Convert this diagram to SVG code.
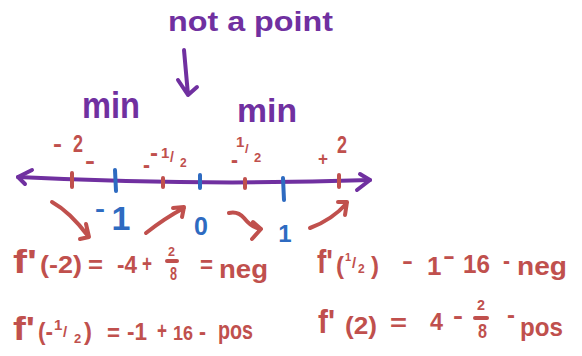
<svg xmlns="http://www.w3.org/2000/svg" width="582" height="356" viewBox="0 0 582 356">
<style>
text{font-family:"Liberation Sans",Arial,sans-serif;font-weight:bold}
.p{fill:#7030a0}
.r{fill:#c0504d}
.b{fill:#2e6bc1}
.ln{fill:none;stroke-width:4;stroke-linecap:round;stroke-linejoin:round}
.pl{stroke:#7030a0}
.rl{stroke:#c0504d}
.bl{stroke:#2e6bc1}
.s24{font-size:24px}
</style>
<rect width="582" height="356" fill="#ffffff"/>

<g id="note-not-a-point">
<text class="p" x="168" y="31" font-size="28" textLength="165" lengthAdjust="spacingAndGlyphs">not a point</text>
<path class="ln pl" d="M184,50 L188,95 M178,80 L188,95 L197,87"/>
</g>

<g id="min-labels">
<text class="p" x="82" y="118" font-size="36" textLength="58" lengthAdjust="spacingAndGlyphs">min</text>
<text class="p" x="237" y="122" font-size="34" textLength="60" lengthAdjust="spacingAndGlyphs">min</text>
</g>

<g id="number-line">
<path class="ln pl" d="M18,177 Q200,186 370,180"/>
<path class="ln pl" d="M32,170 L18,177 L25,184"/>
<path class="ln pl" d="M360,174 L370,180 L357,190"/>
<path class="ln rl" d="M72,173 L72,187 M163,178 L163,187 M245,179 L245,188 M339,175 L339,187"/>
<path class="ln bl" d="M115,170 L116,191 M200,175 L200,188 M283,178 L284,200"/>
</g>

<g id="test-points">
<text class="r s24" x="53" y="152" textLength="9" lengthAdjust="spacingAndGlyphs">-</text>
<text class="r s24" x="73" y="152" textLength="10" lengthAdjust="spacingAndGlyphs">2</text>
<text class="r s24" x="85" y="169" textLength="10" lengthAdjust="spacingAndGlyphs">-</text>

<text class="r s24" x="143" y="173" textLength="7" lengthAdjust="spacingAndGlyphs">-</text>
<text class="r s24" x="150" y="161" textLength="8" lengthAdjust="spacingAndGlyphs">-</text>
<text class="r" x="161" y="158" font-size="15">1</text>
<text class="r" x="170" y="162" font-size="14">/</text>
<text class="r" x="180" y="167" font-size="12">2</text>

<text class="r s24" x="231" y="168" textLength="7" lengthAdjust="spacingAndGlyphs">-</text>
<text class="r" x="236" y="147" font-size="15">1</text>
<text class="r" x="245" y="153" font-size="13">/</text>
<text class="r" x="254" y="162" font-size="13">2</text>

<text class="r" x="318" y="165" font-size="18" textLength="10" lengthAdjust="spacingAndGlyphs">+</text>
<text class="r s24" x="337" y="153" textLength="10" lengthAdjust="spacingAndGlyphs">2</text>
</g>

<g id="critical-points">
<text class="b s24" x="95" y="217" textLength="10" lengthAdjust="spacingAndGlyphs">-</text>
<text class="b" x="121" y="230" font-size="34" text-anchor="middle">1</text>
<text class="b" x="201" y="235" font-size="25" text-anchor="middle">0</text>
<text class="b" x="285" y="242" font-size="24" text-anchor="middle">1</text>
</g>

<g id="connectors">
<path class="ln rl" d="M52,202 Q70,212 88,236 M80,239 L89,237 L86,224"/>
<path class="ln rl" d="M146,233 Q165,218 184,208 M173,208 L184,207 L182,217"/>
<path class="ln rl" d="M229,213 Q238,211 244,218 Q252,228 261,229 M253,222 L261,229 L252,239"/>
<path class="ln rl" d="M310,228 Q332,220 347,203 M338,202 L347,202 L345,215"/>
</g>

<g id="eq1">
<text class="r" x="13" y="273" font-size="34" textLength="24" lengthAdjust="spacingAndGlyphs">f'</text>
<text class="r s24" x="40" y="273" textLength="42" lengthAdjust="spacingAndGlyphs">(-2)</text>
<text class="r s24" x="88" y="273" textLength="15" lengthAdjust="spacingAndGlyphs">=</text>
<text class="r s24" x="117" y="273" textLength="20" lengthAdjust="spacingAndGlyphs">-4</text>
<text class="r s24" x="142" y="272" textLength="10" lengthAdjust="spacingAndGlyphs">+</text>
<text class="r" x="168" y="256" font-size="13" textLength="7" lengthAdjust="spacingAndGlyphs">2</text>
<path class="ln rl" stroke-width="2.5" d="M167,261 L177,261"/>
<text class="r" x="170" y="280" font-size="18" textLength="7" lengthAdjust="spacingAndGlyphs">8</text>
<text class="r s24" x="200" y="273" textLength="13" lengthAdjust="spacingAndGlyphs">=</text>
<text class="r" x="219" y="278" font-size="26" textLength="49" lengthAdjust="spacingAndGlyphs">neg</text>
</g>

<g id="eq2">
<text class="r" x="13" y="340" font-size="34" textLength="22" lengthAdjust="spacingAndGlyphs">f'</text>
<text class="r s24" x="38" y="340" textLength="15" lengthAdjust="spacingAndGlyphs">(-</text>
<text class="r" x="54" y="330" font-size="15">1</text>
<text class="r" x="63" y="337" font-size="15">/</text>
<text class="r" x="74" y="343" font-size="13">2</text>
<text class="r s24" x="84" y="340">)</text>
<text class="r s24" x="107" y="341" textLength="13" lengthAdjust="spacingAndGlyphs">=</text>
<text class="r s24" x="127" y="340" textLength="20" lengthAdjust="spacingAndGlyphs">-1</text>
<text class="r s24" x="157" y="339" textLength="10" lengthAdjust="spacingAndGlyphs">+</text>
<text class="r" x="173" y="340" font-size="20" textLength="20" lengthAdjust="spacingAndGlyphs">16</text>
<text class="r s24" x="199" y="340" textLength="7" lengthAdjust="spacingAndGlyphs">-</text>
<text class="r" x="218" y="339" font-size="26" textLength="35" lengthAdjust="spacingAndGlyphs">pos</text>
</g>

<g id="eq3">
<text class="r" x="317" y="273" font-size="34" textLength="16" lengthAdjust="spacingAndGlyphs">f'</text>
<text class="r s24" x="336" y="274">(</text>
<text class="r" x="345" y="261" font-size="11">1</text>
<text class="r" x="352" y="268" font-size="15">/</text>
<text class="r" x="358" y="273" font-size="12">2</text>
<text class="r s24" x="371" y="274">)</text>
<text class="r s24" x="402" y="269" textLength="11" lengthAdjust="spacingAndGlyphs">-</text>
<text class="r" x="427" y="275" font-size="26">1</text>
<text class="r s24" x="443" y="264" textLength="12" lengthAdjust="spacingAndGlyphs">-</text>
<text class="r" x="463" y="273" font-size="26" textLength="27" lengthAdjust="spacingAndGlyphs">16</text>
<text class="r s24" x="503" y="269" textLength="7" lengthAdjust="spacingAndGlyphs">-</text>
<text class="r" x="517" y="275" font-size="26" textLength="50" lengthAdjust="spacingAndGlyphs">neg</text>
</g>

<g id="eq4">
<text class="r" x="318" y="333" font-size="34" textLength="17" lengthAdjust="spacingAndGlyphs">f'</text>
<text class="r s24" x="345" y="334" textLength="32" lengthAdjust="spacingAndGlyphs">(2)</text>
<text class="r s24" x="390" y="331" textLength="17" lengthAdjust="spacingAndGlyphs">=</text>
<text class="r s24" x="430" y="330" textLength="13" lengthAdjust="spacingAndGlyphs">4</text>
<text class="r s24" x="453" y="324" textLength="10" lengthAdjust="spacingAndGlyphs">-</text>
<text class="r" x="477" y="310" font-size="14" textLength="8" lengthAdjust="spacingAndGlyphs">2</text>
<path class="ln rl" stroke-width="2.5" d="M475,318 L487,318"/>
<text class="r" x="478" y="338" font-size="20" textLength="9" lengthAdjust="spacingAndGlyphs">8</text>
<text class="r s24" x="507" y="323" textLength="8" lengthAdjust="spacingAndGlyphs">-</text>
<text class="r" x="520" y="336" font-size="26" textLength="43" lengthAdjust="spacingAndGlyphs">pos</text>
</g>
</svg>
